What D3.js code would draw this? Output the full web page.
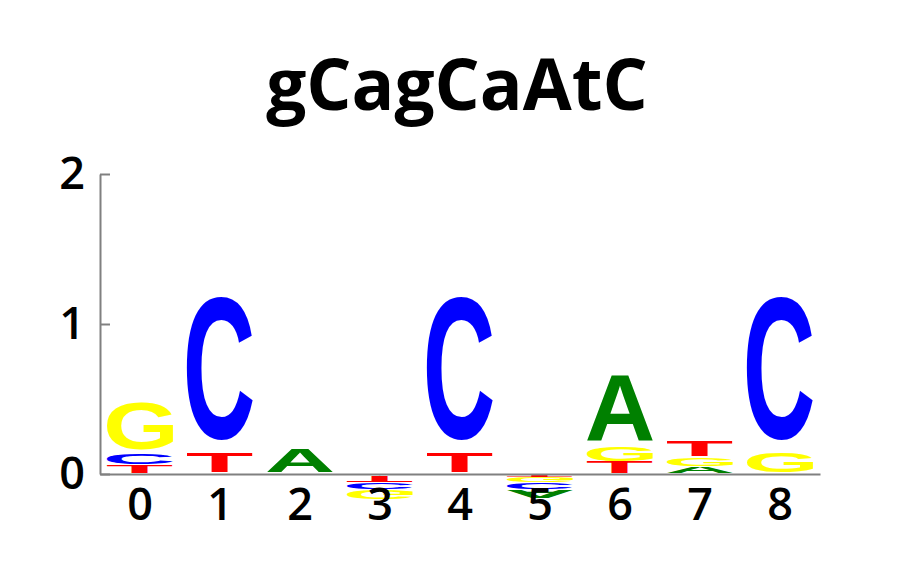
<!DOCTYPE html>
<html>
<head>
<meta charset="utf-8">
<script src="https://cdn.jsdelivr.net/npm/d3@7"></script>
<style>
  body { margin: 0; background: #fff; }
</style>
</head>
<body>
<svg id="chart"></svg>
<script>
  // Chart data (bits per letter at each position, negative = below axis)
  const title = "gCagCaAtC";
  const positions = ["0", "1", "2", "3", "4", "5", "6", "7", "8"];
  const letters = ["A", "C", "G", "T"];
  const valuesA = [0, 0, 0.165, -0.012, 0, -0.06, 0.48, 0.05, 0];
  const valuesC = [0.073, 1.04, 0, -0.048, 1.04, -0.047, 0, 0, 1.04];
  const valuesG = [0.34, 0, 0, -0.062, 0, -0.04, 0.10, 0.06, 0.14];
  const valuesT = [0.06, 0.14, 0, -0.045, 0.14, -0.02, 0.08, 0.11, 0];
  const yTicks = [0, 1, 2];

  const colors = { A: "#008000", C: "#0000ff", G: "#ffff00", T: "#ff0000" };
  const series = { A: valuesA, C: valuesC, G: valuesG, T: valuesT };

  let svgWidth = 920, svgHeight = 575;
  let margin = { top: 174, right: 100, bottom: 101, left: 100 };
  let width = svgWidth - margin.left - margin.right;
  let height = svgHeight - margin.top - margin.bottom;

  let svg = d3.select("#chart")
    .attr("width", svgWidth)
    .attr("height", svgHeight);

  let x = d3.scaleBand()
    .domain(positions)
    .range([margin.left, margin.left + width])
    .paddingInner(0.17)
    .paddingOuter(0.085);

  let y = d3.scaleLinear()
    .domain([0, 2])
    .range([margin.top + height, margin.top]);

  // title
  svg.append("text")
    .attr("x", margin.left + width / 2 - 3)
    .attr("y", 110)
    .attr("text-anchor", "middle")
    .attr("font-family", "'Open Sans', sans-serif")
    .attr("font-weight", "bold")
    .attr("font-size", "71px")
    .attr("fill", "#000")
    .text(title);

  // tight glyph bounds, measured on a canvas
  const glyphFont = "bold 100px 'Liberation Sans'";
  const ctx = document.createElement("canvas").getContext("2d");
  ctx.font = glyphFont;
  const bounds = {};
  letters.forEach(function (ch) {
    let m = ctx.measureText(ch);
    bounds[ch] = {
      l: m.actualBoundingBoxLeft, r: m.actualBoundingBoxRight,
      a: m.actualBoundingBoxAscent, d: m.actualBoundingBoxDescent
    };
  });

  // build stacks per position
  let stacks = [];
  positions.forEach(function (p, i) {
    let items = letters.map(function (ch) { return { ch: ch, v: series[ch][i] }; })
      .filter(function (d) { return d.v !== 0; });
    let pos = items.filter(function (d) { return d.v > 0; })
      .sort(function (a, b) { return a.v - b.v; });
    let neg = items.filter(function (d) { return d.v < 0; })
      .sort(function (a, b) { return b.v - a.v; });
    let base = 0;
    pos.forEach(function (d) {
      stacks.push({ p: p, ch: d.ch, lo: base, hi: base + d.v, flip: false });
      base += d.v;
    });
    base = 0;
    neg.forEach(function (d) {
      stacks.push({ p: p, ch: d.ch, lo: base + d.v, hi: base, flip: true });
      base += d.v;
    });
  });

  const vpad = 0.08;
  let glyphs = svg.append("g").attr("class", "logo");

  glyphs.selectAll("text")
    .data(stacks)
    .enter()
    .append("text")
    .attr("x", 0)
    .attr("y", 0)
    .attr("font-family", "'Liberation Sans', Arial, sans-serif")
    .attr("font-weight", "bold")
    .attr("font-size", "100px")
    .attr("fill", function (d) { return colors[d.ch]; })
    .attr("transform", function (d) {
      let b = bounds[d.ch];
      let top = y(d.hi), bottom = y(d.lo);
      let gh = (bottom - top) * (1 - vpad);
      let sx = x.bandwidth() / (b.l + b.r);
      let sy = gh / (b.a + b.d);
      let x0 = x(d.p);
      if (d.flip) {
        return "translate(" + x0 + "," + (top + gh) + ") scale(" + sx + "," + (-sy) + ") translate(" + b.l + "," + b.a + ")";
      }
      return "translate(" + x0 + "," + top + ") scale(" + sx + "," + sy + ") translate(" + b.l + "," + b.a + ")";
    })
    .text(function (d) { return d.ch; });

  // axes
  let xAxis = svg.append("g")
    .attr("transform", "translate(0," + y(0) + ")")
    .call(d3.axisBottom(x).tickSize(0).tickSizeOuter(0).tickPadding(14));

  let yAxis = svg.append("g")
    .attr("transform", "translate(" + margin.left + ",0)")
    .call(d3.axisLeft(y).tickValues(yTicks).tickFormat(d3.format("d"))
      .tickSize(-10).tickSizeOuter(0).tickPadding(15));

  [xAxis, yAxis].forEach(function (g) {
    g.select(".domain").attr("stroke", "#808080").attr("stroke-width", 2);
    g.selectAll(".tick line").attr("stroke", "#808080").attr("stroke-width", 2);
    g.selectAll(".tick text")
      .attr("font-family", "'Open Sans', sans-serif")
      .attr("font-weight", 600)
      .attr("font-size", "45px")
      .attr("fill", "#000");
  });
</script>
</body>
</html>
